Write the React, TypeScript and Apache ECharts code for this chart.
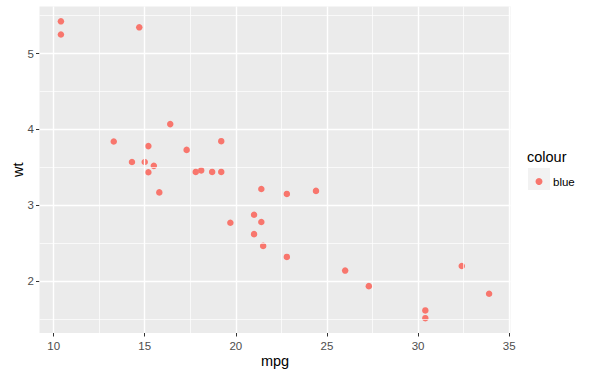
import React, { useEffect, useRef } from "react";
import * as echarts from "echarts";

const mpg = [21.0, 21.0, 22.8, 21.4, 18.7, 18.1, 14.3, 24.4, 22.8, 19.2, 17.8, 16.4, 17.3, 15.2, 10.4, 10.4, 14.7, 32.4, 30.4, 33.9, 21.5, 15.5, 15.2, 13.3, 19.2, 27.3, 26.0, 30.4, 15.8, 19.7, 15.0, 21.4];
const wt = [2.62, 2.875, 2.32, 3.215, 3.44, 3.46, 3.57, 3.19, 3.15, 3.44, 3.44, 4.07, 3.73, 3.78, 5.25, 5.424, 5.345, 2.2, 1.615, 1.835, 2.465, 3.52, 3.435, 3.84, 3.845, 1.935, 2.14, 1.513, 3.17, 2.77, 3.57, 2.78];
const xTicks = [10, 15, 20, 25, 30, 35];
const xMinor = [12.5, 17.5, 22.5, 27.5, 32.5];
const yTicks = [2, 3, 4, 5];
const yMinor = [1.5, 2.5, 3.5, 4.5, 5.5];
const seriesName = "blue";
const legendTitle = "colour";
const xName = "mpg";
const yName = "wt";

const FONT = "'Liberation Sans', Arial, Helvetica, sans-serif";

export default function App() {
  const ref = useRef<HTMLDivElement>(null);
  useEffect(() => {
    if (!ref.current) return;
    const chart = echarts.init(ref.current, null, { renderer: "svg" });
    const xmin = Math.min(...mpg), xmax = Math.max(...mpg);
    const ymin = Math.min(...wt), ymax = Math.max(...wt);
    const xe = (xmax - xmin) * 0.05, ye = (ymax - ymin) * 0.05;
    const gridLine = (w: number) => ({ color: "#FFFFFF", width: w, type: "solid" as const });
    chart.setOption({
      animation: false,
      backgroundColor: "#FFFFFF",
      grid: {
        left: 39.5,
        right: 89.5,
        top: 6.5,
        bottom: 42,
        show: true,
        backgroundColor: "#EBEBEB",
        borderWidth: 0,
        containLabel: false,
        outerBoundsMode: "none",
      },
      xAxis: {
        type: "value",
        min: xmin - xe,
        max: xmax + xe,
        name: xName,
        nameLocation: "middle",
        nameGap: 20,
        nameMoveOverlap: false,
        nameTextStyle: { fontFamily: FONT, fontSize: 14.5, color: "#000000" },
        axisLine: { show: false },
        axisTick: { show: true, customValues: xTicks, length: 3.5, lineStyle: { color: "#333333", width: 1 } },
        axisLabel: { customValues: xTicks, fontFamily: FONT, fontSize: 11.5, color: "#4D4D4D", margin: 6.5 },
        splitLine: { show: false },
      },
      yAxis: {
        type: "value",
        min: ymin - ye,
        max: ymax + ye,
        name: yName,
        nameLocation: "middle",
        nameGap: 14,
        nameMoveOverlap: false,
        nameRotate: 90,
        nameTextStyle: { fontFamily: FONT, fontSize: 14.5, color: "#000000" },
        axisLine: { show: false },
        axisTick: { show: true, customValues: yTicks, length: 3.5, lineStyle: { color: "#333333", width: 1 } },
        axisLabel: { customValues: yTicks, fontFamily: FONT, fontSize: 11.5, color: "#4D4D4D", margin: 5.5 },
        splitLine: { show: false },
      },
      legend: {
        show: true,
        left: 535.5,
        top: 175.5,
        padding: 0,
        icon: "circle",
        itemWidth: 7,
        itemHeight: 7,
        data: [seriesName],
        textStyle: { fontFamily: FONT, fontSize: 11.5, color: "#000000", padding: [0, 0, 0, 5.5] },
      },
      graphic: [
        {
          type: "rect",
          z: -1,
          shape: { x: 528, y: 168, width: 22, height: 22 },
          style: { fill: "#F2F2F2" },
        },
        {
          type: "text",
          x: 527,
          y: 157,
          style: { text: legendTitle, fontFamily: FONT, fontSize: 14.5, fill: "#000000", textVerticalAlign: "middle" },
        },
      ],
      series: [
        {
          type: "scatter",
          name: "__grid",
          data: [],
          z: 1,
          silent: true,
          markLine: {
            silent: true,
            symbol: "none",
            animation: false,
            label: { show: false },
            emphasis: { disabled: true },
            data: [
              ...xMinor.map((v) => ({ xAxis: v, lineStyle: gridLine(0.7) })),
              ...yMinor.map((v) => ({ yAxis: v, lineStyle: gridLine(0.7) })),
              ...xTicks.map((v) => ({ xAxis: v, lineStyle: gridLine(1.4) })),
              ...yTicks.map((v) => ({ yAxis: v, lineStyle: gridLine(1.4) })),
            ],
          },
        },
        {
          type: "scatter",
          name: seriesName,
          z: 3,
          symbolSize: 6.5,
          itemStyle: { color: "#F8766D", opacity: 1 },
          data: mpg.map((m, i) => [m, wt[i]]),
        },
      ],
    });
    return () => chart.dispose();
  }, []);
  return <div ref={ref} style={{ width: 600, height: 375, position: "absolute", left: 0, top: 0 }} />;
}
